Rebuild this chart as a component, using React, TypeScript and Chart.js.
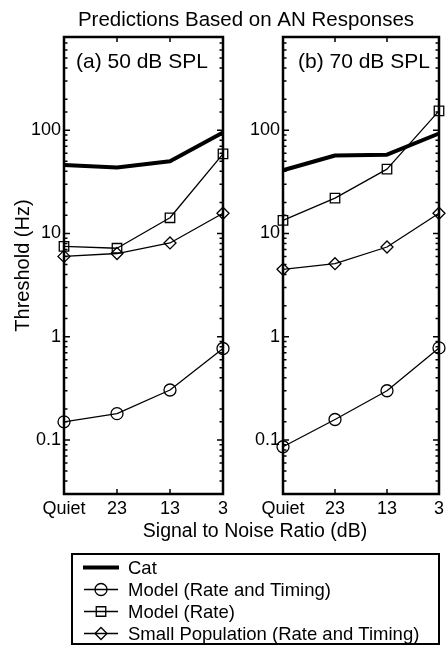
import React, { useEffect, useRef } from "react";
import { Chart, registerables } from "chart.js";

Chart.register(...registerables);

// ---------- data ----------
const categories = ["Quiet", "23", "13", "3"];
const seriesNames = [
  "Cat",
  "Model (Rate and Timing)",
  "Model (Rate)",
  "Small Population (Rate and Timing)",
];
// panel (a) 50 dB SPL
const catA = [46, 43.5, 50, 95];
const rateTimingA = [0.15, 0.18, 0.305, 0.77];
const rateA = [7.5, 7.2, 14.2, 59];
const smallA = [6.0, 6.4, 8.1, 15.7];
// panel (b) 70 dB SPL
const catB = [41, 57, 58, 93];
const rateTimingB = [0.086, 0.158, 0.3, 0.78];
const rateB = [13.4, 22, 42, 154];
const smallB = [4.5, 5.1, 7.4, 15.7];

const yTickValues = [0.1, 1, 10, 100];
const yTickLabels = ["0.1", "1", "10", "100"];
const yMin = 0.03;
const yMax = 800;

const chartTitle = "Predictions Based on AN Responses";
const xTitle = "Signal to Noise Ratio (dB)";
const yTitle = "Threshold (Hz)";
const panelLabels = ["(a) 50 dB SPL", "(b) 70 dB SPL"];

// ---------- styles ----------
const FONT = "'Liberation Sans', Arial, Helvetica, sans-serif";
const THIN = 1.3;
const markerStyles = [
  { style: false as any, radius: 0 },
  { style: "circle", radius: 6 },
  { style: "rect", radius: 6.7 },
  { style: "rectRot", radius: 6 },
];

function labelFor(v: number) {
  for (let i = 0; i < yTickValues.length; i++) {
    if (Math.abs(v - yTickValues[i]) < yTickValues[i] * 1e-6) return yTickLabels[i];
  }
  return "";
}

function makeDatasets(cat: number[], rt: number[], r: number[], sm: number[]) {
  const all = [cat, rt, r, sm];
  return all.map((d, i) => ({
    label: seriesNames[i],
    data: d,
    borderColor: "#000",
    backgroundColor: "rgba(0,0,0,0)",
    borderWidth: i === 0 ? 4 : THIN,
    borderJoinStyle: "round" as const,
    tension: 0,
    fill: false,
    clip: false as any,
    pointStyle: markerStyles[i].style,
    pointRadius: markerStyles[i].radius,
    pointHoverRadius: markerStyles[i].radius,
    pointBorderColor: "#000",
    pointBackgroundColor: "rgba(0,0,0,0)",
    pointBorderWidth: THIN,
  }));
}

const framePlugin = {
  id: "frame",
  afterDraw(chart: any, _args: any, opts: any) {
    const { ctx, chartArea: a, scales } = chart;
    ctx.save();
    ctx.strokeStyle = "#000";
    ctx.fillStyle = "#000";
    // y ticks (inside, both sides)
    const ys = scales.y;
    ctx.lineWidth = 1.5;
    for (const t of ys.ticks) {
      const v = t.value;
      const lg = Math.log10(v);
      const major = Math.abs(lg - Math.round(lg)) < 1e-6;
      const len = major ? 6 : 3.5;
      const p = ys.getPixelForValue(v);
      if (p < a.top + 1 || p > a.bottom - 1) continue;
      ctx.beginPath();
      ctx.moveTo(a.left, p);
      ctx.lineTo(a.left + len, p);
      ctx.moveTo(a.right, p);
      ctx.lineTo(a.right - len, p);
      ctx.stroke();
    }
    // x ticks (inside, top and bottom)
    const xs = scales.x;
    for (let i = 1; i < categories.length - 1; i++) {
      const p = xs.getPixelForValue(i);
      ctx.beginPath();
      ctx.moveTo(p, a.top);
      ctx.lineTo(p, a.top + 5);
      ctx.moveTo(p, a.bottom);
      ctx.lineTo(p, a.bottom - 5);
      ctx.stroke();
    }
    // box
    ctx.lineWidth = 2.5;
    ctx.strokeRect(a.left, a.top, a.right - a.left, a.bottom - a.top);
    // panel label
    ctx.font = `21px ${FONT}`;
    ctx.textAlign = "left";
    ctx.textBaseline = "alphabetic";
    ctx.fillText(opts.label, a.left + opts.labelOffset, a.top + 31);
    ctx.restore();
  },
};

function drawMarker(ctx: CanvasRenderingContext2D, style: string, x: number, y: number, r: number) {
  ctx.beginPath();
  if (style === "circle") {
    ctx.arc(x, y, r, 0, Math.PI * 2);
  } else if (style === "rect") {
    const s = Math.SQRT1_2 * r;
    ctx.rect(x - s, y - s, 2 * s, 2 * s);
  } else if (style === "rectRot") {
    ctx.moveTo(x - r, y);
    ctx.lineTo(x, y - r);
    ctx.lineTo(x + r, y);
    ctx.lineTo(x, y + r);
    ctx.closePath();
  }
  ctx.stroke();
}

const pagePlugin = {
  id: "page",
  afterDraw(chart: any) {
    const ctx: CanvasRenderingContext2D = chart.ctx;
    ctx.save();
    ctx.fillStyle = "#000";
    ctx.strokeStyle = "#000";
    // overall title
    ctx.font = `20.5px ${FONT}`;
    ctx.textAlign = "center";
    ctx.textBaseline = "alphabetic";
    ctx.fillText(chartTitle, 246, 26);
    // x axis title
    ctx.font = `19.5px ${FONT}`;
    ctx.fillText(xTitle, 255, 537);
    // legend
    const lx0 = 72, ly0 = 554, lx1 = 439, ly1 = 644;
    ctx.lineWidth = 2;
    ctx.strokeRect(lx0, ly0, lx1 - lx0, ly1 - ly0);
    ctx.font = `18.5px ${FONT}`;
    ctx.textAlign = "left";
    ctx.textBaseline = "middle";
    for (let i = 0; i < seriesNames.length; i++) {
      const y = 567.5 + 22 * i;
      ctx.lineWidth = i === 0 ? 4 : THIN;
      ctx.beginPath();
      ctx.moveTo(i === 0 ? 83 : 84, y);
      ctx.lineTo(i === 0 ? 119 : 118, y);
      ctx.stroke();
      if (i > 0) {
        ctx.lineWidth = THIN;
        drawMarker(ctx, markerStyles[i].style, 101, y, markerStyles[i].radius);
      }
      ctx.fillText(seriesNames[i], 128, y + 1);
    }
    ctx.restore();
  },
};

function makeConfig(
  datasets: any[],
  padLeft: number,
  yWidth: number,
  padRight: number,
  showYTitle: boolean,
  label: string,
  labelOffset: number,
  extra: any[]
): any {
  return {
    type: "line",
    data: { labels: categories, datasets },
    plugins: [framePlugin, ...extra],
    options: {
      responsive: false,
      maintainAspectRatio: false,
      animation: false,
      devicePixelRatio: 1,
      events: [],
      layout: { padding: { left: padLeft, right: padRight, top: 37, bottom: 122 } },
      plugins: {
        legend: { display: false },
        title: { display: false },
        tooltip: { enabled: false },
        frame: { label, labelOffset },
      },
      scales: {
        x: {
          type: "category",
          offset: false,
          grid: { display: false, drawTicks: false },
          border: { display: false },
          ticks: {
            color: "#000",
            font: { size: 18, family: FONT },
            padding: 4,
            maxRotation: 0,
            autoSkip: false,
          },
          afterFit: (s: any) => {
            s.height = 30;
          },
        },
        y: {
          type: "logarithmic",
          min: yMin,
          max: yMax,
          grid: { display: false, drawTicks: false },
          border: { display: false },
          ticks: {
            color: "#000",
            font: { size: 18, family: FONT },
            padding: 3,
            autoSkip: false,
            callback: (v: any) => labelFor(Number(v)),
          },
          title: {
            display: showYTitle,
            text: yTitle,
            color: "#000",
            font: { size: 20, family: FONT },
            padding: { top: 11, bottom: 0 },
          },
          afterFit: (s: any) => {
            s.width = yWidth;
          },
        },
      },
    },
  };
}

export default function App() {
  const refA = useRef<HTMLCanvasElement>(null);
  const refB = useRef<HTMLCanvasElement>(null);

  useEffect(() => {
    Chart.defaults.font.family = FONT;
    Chart.defaults.color = "#000";
    const chartA = new Chart(
      refA.current as HTMLCanvasElement,
      makeConfig(makeDatasets(catA, rateTimingA, rateA, smallA), 0, 64, 225, true, panelLabels[0], 12, [pagePlugin])
    );
    const chartB = new Chart(
      refB.current as HTMLCanvasElement,
      makeConfig(makeDatasets(catB, rateTimingB, rateB, smallB), 223, 60, 6, false, panelLabels[1], 15, [])
    );
    return () => {
      chartA.destroy();
      chartB.destroy();
    };
  }, []);

  const canvasStyle: React.CSSProperties = {
    position: "absolute",
    left: 0,
    top: 0,
    width: 448,
    height: 646,
  };

  return (
    <div style={{ position: "absolute", left: 0, top: 0, width: 448, height: 646, background: "#fff" }}>
      <canvas ref={refA} width={448} height={646} style={canvasStyle} />
      <canvas ref={refB} width={448} height={646} style={canvasStyle} />
    </div>
  );
}
